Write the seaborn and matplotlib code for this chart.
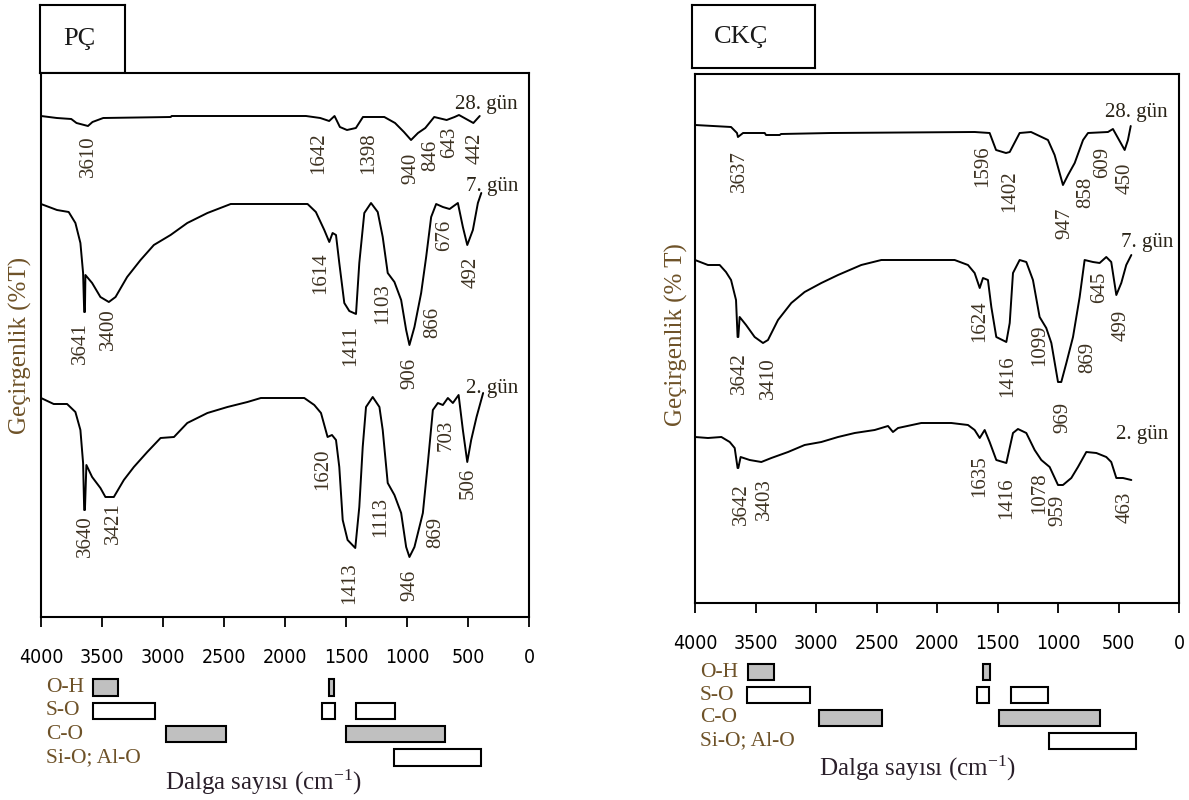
import matplotlib
matplotlib.use('Agg')
import matplotlib.pyplot as plt
from matplotlib import font_manager
import numpy as np
import pandas as pd
import seaborn as sns

# FTIR spectra, wavenumber (cm-1) and transmittance (a.u., curves stacked with offsets)
PC_28_WN = [4000, 3870, 3752, 3709, 3615, 3578, 3490, 2936, 2930, 1828, 1711, 1638, 1594, 1550, 1492,
            1419, 1361, 1186, 1098, 1025, 967, 910, 850, 777, 675, 610, 574, 456, 404]
PC_28_T = [501, 499, 498, 494, 491, 495, 499, 500, 501, 501, 499, 496, 501, 490, 487,
           489, 500, 500, 494, 485, 477, 484, 489, 500, 497, 500, 502, 494, 501]

PC_7_WN = [4000, 3869, 3773, 3718, 3677, 3655, 3646, 3640, 3636, 3581, 3513, 3444, 3389, 3294, 3184,
           3075, 2938, 2801, 2636, 2445, 1815, 1747, 1678, 1637, 1610, 1582, 1555, 1514, 1473, 1418,
           1391, 1350, 1295, 1240, 1199, 1158, 1103, 1048, 1007, 980, 939, 884, 843, 802, 761,
           706, 651, 583, 542, 506, 460, 419, 391]
PC_7_T = [413, 407, 405, 394, 374, 344, 305, 305, 342, 334, 320, 315, 320, 340, 357,
          372, 382, 394, 404, 413, 413, 405, 387, 375, 384, 382, 354, 314, 306, 303,
          354, 404, 414, 405, 380, 344, 335, 317, 287, 272, 290, 324, 360, 400, 413,
          410, 408, 414, 390, 372, 387, 414, 424]

PC_2_WN = [4000, 3896, 3786, 3718, 3677, 3655, 3646, 3640, 3628, 3581, 3513, 3472, 3403, 3321, 3239,
           3129, 3020, 2910, 2801, 2636, 2472, 2308, 2198, 1842, 1760, 1705, 1651, 1615, 1582, 1555,
           1527, 1487, 1424, 1391, 1363, 1336, 1281, 1226, 1199, 1158, 1103, 1048, 1007, 980, 939,
           884, 870, 829, 788, 747, 706, 665, 624, 577, 542, 506, 474, 430, 376]
PC_2_T = [219, 213, 213, 205, 187, 154, 107, 107, 152, 140, 129, 120, 120, 137, 150,
          165, 179, 180, 194, 204, 210, 215, 219, 219, 212, 204, 180, 182, 177, 150,
          97, 77, 69, 110, 170, 210, 220, 210, 187, 134, 122, 104, 70, 60, 70,
          97, 104, 154, 207, 214, 212, 219, 214, 222, 187, 155, 177, 200, 224]

CKC_28_WN = [4000, 3702, 3653, 3645, 3603, 3424, 3413, 3300, 3289, 2876, 1689, 1565, 1512, 1430, 1399,
             1317, 1223, 1083, 1028, 959, 917, 862, 793, 752, 587, 546, 449, 422, 399]
CKC_28_T = [478, 476, 470, 466, 470, 470, 468, 468, 469, 470, 471, 470, 453, 450, 451,
            470, 471, 463, 448, 418, 428, 440, 463, 470, 471, 474, 453, 463, 477]

CKC_7_WN = [4000, 3893, 3796, 3744, 3702, 3661, 3648, 3642, 3631, 3578, 3507, 3438, 3397, 3314, 3204,
            3094, 2956, 2818, 2626, 2460, 1854, 1744, 1689, 1647, 1620, 1579, 1551, 1510, 1427, 1399,
            1372, 1317, 1262, 1207, 1152, 1097, 1055, 1000, 973, 931, 876, 821, 780, 711, 656,
            601, 560, 518, 477, 436, 394]
CKC_7_T = [343, 338, 338, 331, 323, 303, 266, 266, 286, 278, 266, 260, 263, 283, 300,
           311, 320, 328, 338, 343, 343, 338, 330, 315, 325, 323, 296, 266, 261, 280,
           330, 343, 341, 323, 286, 275, 260, 221, 221, 240, 266, 306, 343, 341, 340,
           346, 341, 308, 320, 338, 348]

CKC_2_WN = [4000, 3893, 3782, 3713, 3672, 3648, 3642, 3623, 3548, 3452, 3369, 3231, 3094, 2956, 2818,
            2680, 2515, 2405, 2364, 2322, 2130, 1882, 1744, 1689, 1647, 1606, 1565, 1510, 1427, 1372,
            1331, 1262, 1193, 1138, 1069, 1000, 959, 890, 835, 766, 683, 601, 560, 518, 463, 394]
CKC_2_T = [166, 165, 166, 161, 155, 135, 135, 146, 143, 141, 145, 151, 158, 161, 166,
           170, 173, 177, 171, 175, 180, 180, 178, 173, 165, 173, 161, 143, 140, 170,
           174, 170, 153, 143, 136, 118, 118, 125, 136, 151, 150, 146, 141, 125, 125, 123]

# peak annotations: text, wavenumber where it sits, value at the top of the label
PC_28_PEAKS = [('3610', 3615, 482), ('1642', 1725, 485), ('1398', 1318, 485), ('940', 967, 464),
               ('846', 806, 477), ('643', 647, 490), ('442', 442, 484)]
PC_7_PEAKS = [('3641', 3677, 295), ('3400', 3444, 309), ('1614', 1706, 365), ('1411', 1459, 292),
              ('1103', 1199, 334), ('906', 980, 259), ('866', 788, 310), ('676', 693, 397),
              ('492', 474, 360)]
PC_2_PEAKS = [('3640', 3636, 102), ('3421', 3403, 115), ('1620', 1692, 169), ('1413', 1473, 55),
              ('1113', 1213, 120), ('946', 980, 47), ('869', 761, 100), ('703', 679, 197),
              ('506', 501, 149)]
CKC_28_PEAKS = [('3637', 3631, 453), ('1596', 1620, 458), ('1402', 1399, 433), ('947', 945, 395),
                ('858', 769, 426), ('609', 628, 456), ('450', 449, 440)]
CKC_7_PEAKS = [('3642', 3631, 251), ('3410', 3397, 246), ('1624', 1647, 303), ('1416', 1413, 248),
               ('1099', 1152, 278), ('969', 959, 201), ('869', 752, 261), ('645', 656, 331),
               ('499', 477, 293)]
CKC_2_PEAKS = [('3642', 3617, 120), ('3403', 3424, 125), ('1635', 1647, 148), ('1416', 1427, 126),
               ('1078', 1152, 131), ('959', 1000, 108), ('463', 449, 111)]

DAYS = ['28. gün', '7. gün', '2. gün']
PC_DAY_POS = [(607, 512), (516, 430), (516, 229)]
CKC_DAY_POS = [(614, 490), (480, 360), (520, 168)]

# assignment bands below the spectra
BAND_ROWS = ['O-H', 'S-O', 'C-O', 'Si-O; Al-O']
BAND_FILL = {'O-H': '#c0c0c0', 'S-O': 'white', 'C-O': '#c0c0c0', 'Si-O; Al-O': 'white'}
PC_BAND_GROUP = ['O-H', 'O-H', 'S-O', 'S-O', 'S-O', 'C-O', 'C-O', 'Si-O; Al-O']
PC_BAND_HI = [3575, 1640, 3570, 1697, 1418, 2975, 1500, 1106]
PC_BAND_LO = [3370, 1600, 3066, 1590, 1098, 2484, 688, 393]
CKC_BAND_GROUP = ['O-H', 'O-H', 'S-O', 'S-O', 'S-O', 'C-O', 'C-O', 'Si-O; Al-O']
CKC_BAND_HI = [3558, 1620, 3570, 1670, 1388, 2978, 1488, 1074]
CKC_BAND_LO = [3347, 1562, 3050, 1570, 1083, 2458, 653, 356]

XTICKS = [4000, 3500, 3000, 2500, 2000, 1500, 1000, 500, 0]

sns.set_theme(style='white')
plt.rcParams['font.family'] = ['Liberation Serif', 'DejaVu Serif']
plt.rcParams['mathtext.fontset'] = 'custom'
plt.rcParams['mathtext.rm'] = 'Liberation Serif'
plt.rcParams['mathtext.it'] = 'Liberation Serif:italic'

# narrow sans for the tick numbers, whichever is installed
tick_fp = None
for key in ['LiberationSansNarrow-Regular', 'DejaVuSansCondensed.', 'RobotoCondensed-Regular',
            'OpenSans_Condensed-Regular', 'OpenSansCondensed']:
    hits = [f.fname for f in font_manager.fontManager.ttflist if key in f.fname]
    if hits:
        tick_fp = font_manager.FontProperties(fname=hits[0], size=14)
        break
if tick_fp is None:
    tick_fp = font_manager.FontProperties(family='Liberation Sans', size=13)

W, H = 1189, 800
fig = plt.figure(figsize=(W / 100, H / 100), dpi=100)


def px_axes(x0, y0, x1, y1):
    return fig.add_axes([x0 / W, 1 - y1 / H, (x1 - x0) / W, (y1 - y0) / H])


PEAK_COLOR = '#3d3222'
BROWN = '#6e5228'


def draw_panel(title, title_box, title_x, spec_box, ymax, curves, peaks, day_pos,
               band_box, groups, his, los, ylabel, ylabel_xy, xlabel_xy):
    # title box
    tax = px_axes(*title_box)
    tax.set_xticks([])
    tax.set_yticks([])
    for s in tax.spines.values():
        s.set_color('black')
        s.set_linewidth(1.5)
    tax.text(title_x, 0.5, title, transform=tax.transAxes, ha='left', va='center', fontsize=19,
             color='#1a1a1a')

    ax = px_axes(*spec_box)
    for (wn, t), pk, day, pos in zip(curves, peaks, DAYS, day_pos):
        df = pd.DataFrame({'wn': wn, 't': t})
        sns.lineplot(data=df, x='wn', y='t', ax=ax, color='black', lw=1.4, estimator=None, sort=False)
        for txt, w, top in pk:
            ax.text(w, top, txt, rotation=90, ha='center', va='top', fontsize=15, color=PEAK_COLOR)
        ax.text(pos[0], pos[1], day, ha='left', va='center', fontsize=15, color='#2a2418')

    ax.set_xlim(4000, 0)
    ax.set_ylim(0, ymax)
    ax.set_xlabel('')
    ax.set_ylabel('')
    ax.set_yticks([])
    ax.set_xticks(XTICKS)
    ax.set_xticklabels([str(v) for v in XTICKS], fontproperties=tick_fp, color='black')
    ax.tick_params(axis='x', bottom=True, direction='out', length=7, width=1.3, pad=15, color='black')
    for s in ax.spines.values():
        s.set_color('black')
        s.set_linewidth(1.5)

    fig.text(ylabel_xy[0] / W, 1 - ylabel_xy[1] / H, ylabel, rotation=90, ha='center', va='center',
             fontsize=18, color=BROWN)

    # bands
    bx = px_axes(*band_box)
    bx.set_xlim(4000, 0)
    bx.set_ylim(len(BAND_ROWS) - 0.5, -0.5)
    bx.axis('off')
    for g, hi, lo in zip(groups, his, los):
        bx.barh(BAND_ROWS.index(g), hi - lo, left=lo, height=0.7, color=BAND_FILL[g],
                edgecolor='black', linewidth=1.5)
    for i, g in enumerate(BAND_ROWS):
        bx.text(0.01, i, g, transform=bx.get_yaxis_transform(), ha='left', va='center',
                fontsize=15.5, color=BROWN)

    fig.text(xlabel_xy[0] / W, 1 - xlabel_xy[1] / H, 'Dalga sayısı (cm$^{-1}$)', ha='center',
             va='center', fontsize=18, color='#2a1f2a')


draw_panel('PÇ', (40, 5, 125, 73), 0.27, (41, 73, 529, 617), 544,
           [(PC_28_WN, PC_28_T), (PC_7_WN, PC_7_T), (PC_2_WN, PC_2_T)],
           [PC_28_PEAKS, PC_7_PEAKS, PC_2_PEAKS], PC_DAY_POS,
           (41, 676, 529, 769), PC_BAND_GROUP, PC_BAND_HI, PC_BAND_LO,
           'Geçirgenlik (%T)', (20, 345), (263, 782))

draw_panel('CKÇ', (692, 5, 815, 68), 0.18, (695, 74, 1179, 603), 529,
           [(CKC_28_WN, CKC_28_T), (CKC_7_WN, CKC_7_T), (CKC_2_WN, CKC_2_T)],
           [CKC_28_PEAKS, CKC_7_PEAKS, CKC_2_PEAKS], CKC_DAY_POS,
           (695, 661, 1179, 752), CKC_BAND_GROUP, CKC_BAND_HI, CKC_BAND_LO,
           'Geçirgenlik (% T)', (676, 335), (917, 768))

fig.savefig('out.png', dpi=100)
